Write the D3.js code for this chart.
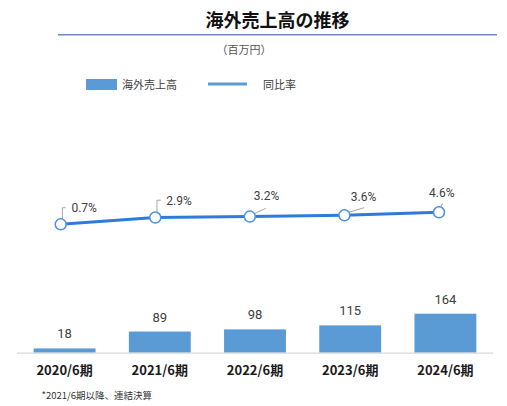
<!DOCTYPE html>
<html>
<head>
<meta charset="utf-8">
<script src="https://cdn.jsdelivr.net/npm/d3@7/dist/d3.min.js"></script>
<style>
  html, body { margin: 0; padding: 0; background: #fff; }
  svg { display: block; }
</style>
</head>
<body>
<svg id="chart" width="507" height="406"></svg>
<script>
// ---- data ----
const categories = ["2020/6期", "2021/6期", "2022/6期", "2023/6期", "2024/6期"];
const salesValues = [18, 89, 98, 115, 164];
const ratioValues = [0.7, 2.9, 3.2, 3.6, 4.6];
const ratioLabels = ["0.7%", "2.9%", "3.2%", "3.6%", "4.6%"];
const titleText = "海外売上高の推移";
const unitText = "（百万円）";
const legendLabels = ["海外売上高", "同比率"];
const footnoteText = "*2021/6期以降、連結決算";

// ---- layout (label placements relative to each point) ----
const labelLayout = [
  { dx: 10.7, dy: -12.6, leader: [[1.7, -5.3], [1.7, -16.6], [5, -16.6]] },
  { dx: 11,   dy: -12.3, leader: [[1.7, -4.7], [1.7, -17.3], [5.7, -17.3]] },
  { dx: 4,    dy: -16.7, leader: [[4, -2.7], [16, -8.3]] },
  { dx: 6.4,  dy: -14.3, leader: [[3, -2.7], [19.7, -7.7]] },
  { dx: -10,  dy: -15.6, leader: [[0.3, -2.6], [3.7, -9]] }
];

const barColor = "#5B9BD5";
const lineColor = "#2E7BDB";
const markerColor = "#4A90E2";
const textColor = "#404040";

const svg = d3.select("#chart");

// title
svg.append("text")
  .attr("x", 277.5).attr("y", 27)
  .attr("text-anchor", "middle")
  .attr("font-family", "'Noto Sans CJK JP', sans-serif")
  .attr("font-size", 18).attr("font-weight", "bold")
  .attr("fill", "#111")
  .text(titleText);

svg.append("line")
  .attr("x1", 58).attr("x2", 497)
  .attr("y1", 34.7).attr("y2", 34.7)
  .attr("stroke", "#6C88C8").attr("stroke-width", 1.5);

svg.append("text")
  .attr("x", 244).attr("y", 54)
  .attr("text-anchor", "middle")
  .attr("font-family", "'Noto Sans CJK JP', sans-serif")
  .attr("font-size", 11)
  .attr("fill", "#555")
  .text(unitText);

// legend
svg.append("rect")
  .attr("x", 86).attr("y", 79).attr("width", 31).attr("height", 11)
  .attr("fill", barColor);
svg.append("text")
  .attr("x", 122).attr("y", 88.5)
  .attr("font-family", "'Noto Sans CJK JP', sans-serif")
  .attr("font-size", 11).attr("fill", textColor)
  .text(legendLabels[0]);
svg.append("line")
  .attr("x1", 208).attr("x2", 247).attr("y1", 84).attr("y2", 84)
  .attr("stroke", barColor).attr("stroke-width", 3);
svg.append("text")
  .attr("x", 263).attr("y", 88.5)
  .attr("font-family", "'Noto Sans CJK JP', sans-serif")
  .attr("font-size", 11).attr("fill", textColor)
  .text(legendLabels[1]);

// ---- bars ----
const x = d3.scaleBand()
  .domain(categories)
  .range([17, 493])
  .paddingInner(0.35)
  .paddingOuter(0.175);

const yBar = d3.scaleLinear()
  .domain([0, 164])
  .range([352.7, 313.7]);

svg.append("g").selectAll("rect")
  .data(salesValues)
  .join("rect")
  .attr("x", (d, i) => x(categories[i]))
  .attr("width", x.bandwidth())
  .attr("y", d => yBar(d))
  .attr("height", d => yBar(0) - yBar(d))
  .attr("fill", barColor);

svg.append("g").selectAll("text")
  .data(salesValues)
  .join("text")
  .attr("x", (d, i) => x(categories[i]) + x.bandwidth() / 2)
  .attr("y", d => yBar(d) - 10)
  .attr("text-anchor", "middle")
  .attr("font-family", "Roboto, sans-serif")
  .attr("font-size", 13)
  .attr("fill", textColor)
  .text(d => d);

// x axis
const xAxis = d3.axisBottom(x).tickSize(0).tickPadding(0);
const gx = svg.append("g")
  .attr("transform", `translate(0,${yBar(0)})`)
  .call(xAxis);
gx.select(".domain").attr("stroke", "#D9D9D9").attr("stroke-width", 1.2)
  .attr("d", "M17,0.5H493");
gx.selectAll(".tick text")
  .attr("dy", 0).attr("y", 22)
  .attr("font-family", "'Noto Sans CJK JP', sans-serif")
  .attr("font-size", 13).attr("font-weight", "bold")
  .attr("fill", "#1a1a1a");

// ---- line ----
const xLine = d3.scalePoint()
  .domain(categories)
  .range([60.7, 439]);

const yLine = d3.scaleLinear()
  .domain([0, 5])
  .range([226.46, 211.06]);

const pts = ratioValues.map((v, i) => [xLine(categories[i]), yLine(v)]);

svg.append("path")
  .datum(pts)
  .attr("d", d3.line())
  .attr("fill", "none")
  .attr("stroke", lineColor)
  .attr("stroke-width", 3)
  .attr("stroke-linejoin", "round");

// leaders
svg.append("g").selectAll("path")
  .data(pts)
  .join("path")
  .attr("d", (p, i) => d3.line()(labelLayout[i].leader.map(o => [p[0] + o[0], p[1] + o[1]])))
  .attr("fill", "none")
  .attr("stroke", "#A6A6A6")
  .attr("stroke-width", 1);

svg.append("g").selectAll("circle")
  .data(pts)
  .join("circle")
  .attr("cx", p => p[0]).attr("cy", p => p[1])
  .attr("r", 5.5)
  .attr("fill", "#fff")
  .attr("stroke", markerColor)
  .attr("stroke-width", 1.5);

svg.append("g").selectAll("text")
  .data(pts)
  .join("text")
  .attr("x", (p, i) => p[0] + labelLayout[i].dx)
  .attr("y", (p, i) => p[1] + labelLayout[i].dy)
  .attr("font-family", "Roboto, sans-serif")
  .attr("font-size", 12)
  .attr("fill", textColor)
  .text((p, i) => ratioLabels[i]);

// footnote
svg.append("text")
  .attr("x", 41.5).attr("y", 399)
  .attr("font-family", "'Noto Sans CJK JP', sans-serif")
  .attr("font-size", 9.5)
  .attr("fill", "#333")
  .text(footnoteText);
</script>
</body>
</html>
